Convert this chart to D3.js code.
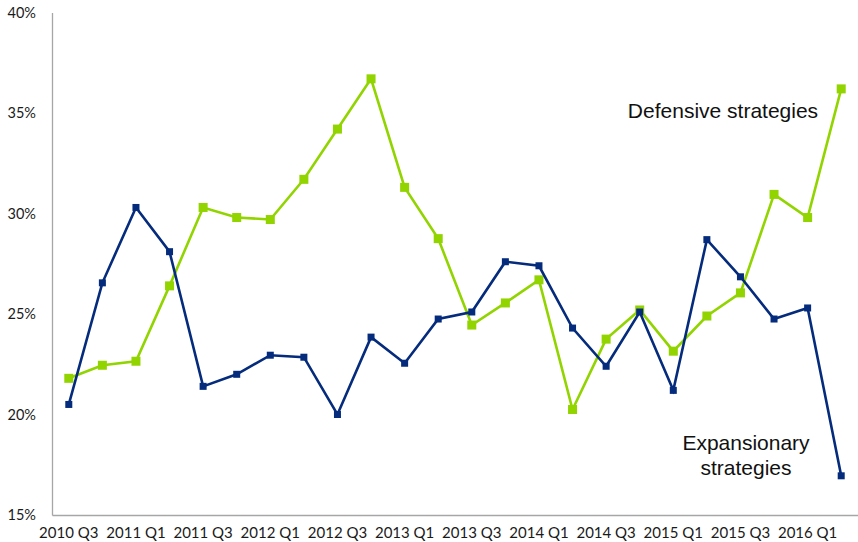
<!DOCTYPE html>
<html><head><meta charset="utf-8">
<script src="https://cdn.jsdelivr.net/npm/d3@7"></script>
<style>body{margin:0;background:#fff}svg{display:block}</style>
</head><body><svg id="c" width="858" height="542"></svg>
<script>
const quarters = ["2010 Q3","2010 Q4","2011 Q1","2011 Q2","2011 Q3","2011 Q4","2012 Q1","2012 Q2","2012 Q3","2012 Q4","2013 Q1","2013 Q2","2013 Q3","2013 Q4","2014 Q1","2014 Q2","2014 Q3","2014 Q4","2015 Q1","2015 Q2","2015 Q3","2015 Q4","2016 Q1","2016 Q2"];
const defensive = [21.8,22.45,22.65,26.4,30.3,29.8,29.7,31.7,34.2,36.7,31.3,28.75,24.45,25.55,26.7,20.25,23.75,25.2,23.15,24.9,26.05,30.95,29.8,36.2];
const expansionary = [20.5,26.55,30.3,28.1,21.4,22.0,22.95,22.85,20.0,23.85,22.55,24.75,25.1,27.6,27.4,24.3,22.4,25.1,21.2,28.7,26.85,24.75,25.3,16.95];
const tickLabels = ["2010 Q3","2011 Q1","2011 Q3","2012 Q1","2012 Q3","2013 Q1","2013 Q3","2014 Q1","2014 Q3","2015 Q1","2015 Q3","2016 Q1"];
const yTicks = [15,20,25,30,35,40];

const svg = d3.select("#c");
const x = d3.scaleBand().domain(quarters).range([52, 858]);
const y = d3.scaleLinear().domain([15, 40]).range([515, 12.5]);
const cx = d => x(d) + x.bandwidth()/2;

// axes
const yAxis = svg.append("g").attr("transform","translate(52,0)")
  .call(d3.axisLeft(y).tickValues(yTicks).tickSize(0).tickPadding(16).tickFormat(d => d + "%"));
yAxis.select(".domain").attr("stroke","#a6a6a6").attr("stroke-width",1.3);
yAxis.selectAll("text").attr("font-family","Lato, 'Open Sans', sans-serif").attr("font-size",14.5).attr("fill","#1a1a1a");

const xAxis = svg.append("g").attr("transform","translate(0,515)")
  .call(d3.axisBottom(x).tickValues(tickLabels).tickSize(0).tickPadding(12));
xAxis.select(".domain").attr("stroke","#a6a6a6").attr("stroke-width",1.3);
xAxis.selectAll("text").attr("font-family","Lato, 'Open Sans', sans-serif").attr("font-size",15).attr("fill","#1a1a1a");

const line = d3.line().x((d,i) => cx(quarters[i])).y(d => y(d));

function series(data, color, lw, ms){
  svg.append("path").datum(data).attr("d", line).attr("fill","none")
    .attr("stroke", color).attr("stroke-width", lw).attr("stroke-linejoin","miter");
  svg.append("g").selectAll("rect").data(data).join("rect")
    .attr("x",(d,i)=>cx(quarters[i]) - ms/2).attr("y", d => y(d) - ms/2)
    .attr("width", ms).attr("height", ms).attr("fill", color);
}
series(defensive, "#92D400", 2.6, 9);
series(expansionary, "#042B7C", 2.6, 7);

const ann = svg.append("g").attr("font-family","'Liberation Sans', Arial, sans-serif").attr("font-size",21).attr("fill","#111").attr("text-anchor","middle");
ann.append("text").attr("x",723).attr("y",118).text("Defensive strategies");
ann.append("text").attr("x",746).attr("y",450).text("Expansionary");
ann.append("text").attr("x",746).attr("y",475).text("strategies");
</script></body></html>
